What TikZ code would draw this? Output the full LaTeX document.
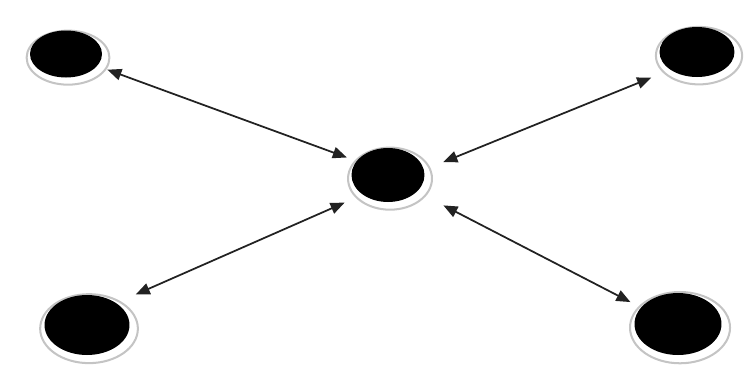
\documentclass[tikz,border=0pt]{standalone}
\usepackage{xcolor}
\usetikzlibrary{arrows.meta, shapes.geometric, shadows}
\definecolor{linkink}{HTML}{222222}
\definecolor{ringedge}{HTML}{C4C4C4}

\begin{document}
\begin{tikzpicture}[
  x=0.02cm,
  y=-0.02cm,
  hub/.style={ellipse, fill=black, inner sep=0pt, outer sep=0pt,
    general shadow={fill=white, draw=ringedge, line width=1pt,
      shadow scale=1.15, shadow xshift=1pt, shadow yshift=-1.8pt}},
  link/.style={linkink, line width=1pt,
    {Triangle[length=8pt, width=6.5pt]}-{Triangle[length=8pt, width=6.5pt]}}
]
  \useasboundingbox (0,0) rectangle (745,390);

  % ---- nodes ----
  \node[hub, minimum width=1.44cm, minimum height=0.94cm] (nw) at (66,54) {};
  \node[hub, minimum width=1.5cm, minimum height=1cm] (ne) at (697,52) {};
  \node[hub, minimum width=1.46cm, minimum height=1.08cm] (c) at (388,175) {};
  \node[hub, minimum width=1.7cm, minimum height=1.2cm] (sw) at (87,325) {};
  \node[hub, minimum width=1.74cm, minimum height=1.24cm] (se) at (678,324) {};

  % ---- links to the centre ----
  \draw[link, shorten <=0.22cm, shorten >=0.21cm] (nw.-21) -- (c.156);
  \draw[link, shorten <=0.42cm, shorten >=0.42cm] (ne.214) -- (c.8);
  \draw[link, shorten <=0.43cm, shorten >=0.40cm] (sw.37) -- (c.218);
  \draw[link, shorten <=0.24cm, shorten >=0.60cm] (se.156) -- (c.-30);
\end{tikzpicture}
\end{document}
